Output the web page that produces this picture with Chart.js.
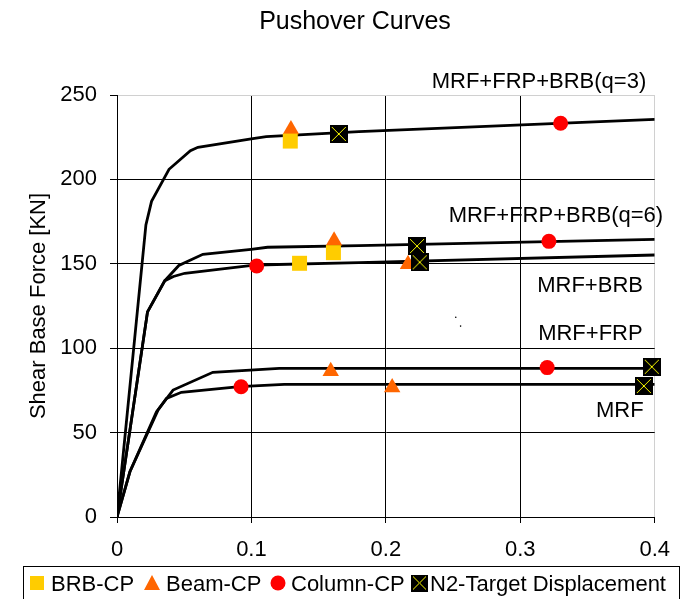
<!DOCTYPE html>
<html>
<head>
<meta charset="utf-8">
<script src="https://cdn.jsdelivr.net/npm/chart.js@4.4.1/dist/chart.umd.min.js"></script>
<style>
    html, body { margin: 0; padding: 0; background: #fff; }
    canvas { display: block; }
</style>
</head>
<body>
<canvas id="chart" width="684" height="599"></canvas>
<script>
// pushover curves: roof displacement [m] vs shear base force [KN]
const xTicks = [0, 0.1, 0.2, 0.3, 0.4];
const yTicks = [0, 50, 100, 150, 200, 250];

const q3X = [0, 0.0215, 0.0257, 0.0387, 0.0546, 0.0602, 0.0998, 0.111, 0.18, 0.4];
const q3Y = [0, 173, 187, 206, 217, 219, 224, 225.3, 228.3, 235.6];

const q6X = [0, 0.0227, 0.0356, 0.046, 0.0639, 0.0998, 0.112, 0.18, 0.4];
const q6Y = [0, 121.5, 140, 149, 155.6, 158.6, 159.8, 160.8, 164.5];

const brbX = [0, 0.0227, 0.0356, 0.042, 0.0504, 0.1035, 0.18, 0.4];
const brbY = [0, 121.5, 140, 142.5, 144.4, 149.3, 150.7, 155.2];

const frpX = [0, 0.0096, 0.0294, 0.0417, 0.0713, 0.1207, 0.4];
const frpY = [0, 26.8, 62.4, 75.2, 85.7, 88.1, 88.1];

const mrfX = [0, 0.0096, 0.0306, 0.0368, 0.0479, 0.0911, 0.1244, 0.4];
const mrfY = [0, 26.8, 63.4, 70.3, 73.9, 77.2, 78.6, 78.6];

// performance points
const brbCpX = [0.1289, 0.161, 0.1358];
const brbCpY = [222.7, 156.6, 150.3];
const beamCpX = [0.1294, 0.1615, 0.2165, 0.159, 0.2047];
const beamCpY = [229.6, 163.7, 149.7, 86.4, 76.7];
const colCpX = [0.330, 0.3213, 0.1039, 0.32, 0.0923];
const colCpY = [233.3, 163.3, 148.7, 88.5, 77.2];
const n2X = [0.165, 0.2232, 0.2252, 0.3978, 0.3919];
const n2Y = [226.9, 160.5, 150.9, 89, 77.6];

// stray specks in the plot
const speckX = [0.252, 0.2556];
const speckY = [118.3, 113.1];

const curveNames = ['MRF+FRP+BRB(q=3)', 'MRF+FRP+BRB(q=6)', 'MRF+BRB', 'MRF+FRP', 'MRF'];
// left edge and baseline of each curve name, in data units
const nameX = [0.2341, 0.2467, 0.3126, 0.3133, 0.3563];
const nameY = [254, 174.9, 133.5, 105, 59];

const legendNames = ['BRB-CP', 'Beam-CP', 'Column-CP', 'N2-Target Displacement'];
const chartTitle = 'Pushover Curves';

const FONT = '"Liberation Sans", Arial, sans-serif';
Chart.defaults.font.family = FONT;
Chart.defaults.color = '#000';

const zip = (xs, ys) => xs.map((x, i) => ({ x: x, y: ys[i] }));

// black square with a yellow cross
function makeN2Marker(size) {
    const c = document.createElement('canvas');
    c.width = size;
    c.height = size;
    const g = c.getContext('2d');
    g.fillStyle = '#000';
    g.fillRect(0, 0, size, size);
    g.strokeStyle = '#FFFF00';
    g.lineWidth = 1;
    g.beginPath();
    g.moveTo(2, 2);
    g.lineTo(size - 2, size - 2);
    g.moveTo(size - 2, 2);
    g.lineTo(2, size - 2);
    g.stroke();
    return c;
}
const n2Marker = makeN2Marker(18);
const n2Legend = makeN2Marker(17);

function curve(xs, ys) {
    return {
        data: zip(xs, ys),
        showLine: true,
        borderColor: '#000',
        borderWidth: 2.8,
        pointRadius: 0,
        tension: 0,
        order: 10,
    };
}

function markers(xs, ys, style, color, radius, order) {
    return {
        data: zip(xs, ys),
        showLine: false,
        pointStyle: style,
        pointRadius: radius,
        pointBackgroundColor: color,
        pointBorderColor: color,
        pointBorderWidth: 0,
        clip: false,
        order: order,
    };
}

const decor = {
    id: 'decor',
    afterDraw(chart) {
        const ctx = chart.ctx;
        const xs = chart.scales.x;
        const ys = chart.scales.y;
        ctx.save();
        ctx.fillStyle = '#000';

        // title, centred a little right of the canvas middle as in the source
        ctx.font = '25px ' + FONT;
        ctx.textAlign = 'center';
        ctx.textBaseline = 'alphabetic';
        ctx.fillText(chartTitle, 355, 29);

        ctx.font = '22px ' + FONT;
        ctx.textAlign = 'left';
        curveNames.forEach((name, i) => {
            ctx.fillText(name, xs.getPixelForValue(nameX[i]), ys.getPixelForValue(nameY[i]));
        });

        // legend box
        ctx.strokeStyle = '#000';
        ctx.lineWidth = 1;
        ctx.strokeRect(23.5, 566.5, 656, 40);
        const cy = 583;
        // BRB-CP square
        ctx.fillStyle = '#FFCC00';
        ctx.fillRect(30, cy - 7, 14, 14);
        // Beam-CP triangle
        ctx.fillStyle = '#FF6600';
        ctx.beginPath();
        ctx.moveTo(152, cy - 8);
        ctx.lineTo(160, cy + 7);
        ctx.lineTo(144, cy + 7);
        ctx.closePath();
        ctx.fill();
        // Column-CP circle
        ctx.fillStyle = '#FF0000';
        ctx.beginPath();
        ctx.arc(278, cy, 7.5, 0, Math.PI * 2);
        ctx.fill();
        // N2 target
        ctx.drawImage(n2Legend, 411, cy - 8.5);
        ctx.fillStyle = '#000';
        const textX = [51, 166, 291, 430];
        legendNames.forEach((name, i) => ctx.fillText(name, textX[i], cy + 8));
        ctx.restore();
    },
};

const lightEdge = (v) => (v === 250 || Math.abs(v - 0.4) < 1e-9 ? '#D0D0D0' : '#000');

new Chart(document.getElementById('chart'), {
    type: 'scatter',
    data: {
        datasets: [
            curve(q3X, q3Y),
            curve(q6X, q6Y),
            curve(brbX, brbY),
            curve(frpX, frpY),
            curve(mrfX, mrfY),
            markers(speckX, speckY, 'circle', '#000', 0.8, 9),
            markers(beamCpX, beamCpY, 'triangle', '#FF6600', 9.5, 5),
            markers(brbCpX, brbCpY, 'rect', '#FFCC00', 10.6, 4),
            markers(colCpX, colCpY, 'circle', '#FF0000', 7.5, 3),
            markers(n2X, n2Y, n2Marker, '#000', 9, 2),
        ],
    },
    options: {
        responsive: false,
        animation: false,
        devicePixelRatio: 1,
        layout: { padding: { left: 0, right: 27, top: 95, bottom: 42 } },
        plugins: {
            legend: { display: false },
            tooltip: { enabled: false },
            title: { display: false },
        },
        scales: {
            x: {
                type: 'linear',
                min: 0,
                max: 0.4,
                afterBuildTicks: (s) => { s.ticks = xTicks.map((v) => ({ value: v })); },
                afterFit: (s) => { s.height = 40; },
                ticks: {
                    padding: 14,
                    font: { size: 22 },
                    callback: (v) => String(Math.round(v * 10) / 10),
                },
                grid: {
                    color: (c) => lightEdge(c.tick.value),
                    lineWidth: 1,
                    tickLength: 6,
                    tickColor: '#000',
                },
                border: { color: '#000', width: 1 },
            },
            y: {
                type: 'linear',
                min: 0,
                max: 250,
                afterBuildTicks: (s) => { s.ticks = yTicks.map((v) => ({ value: v })); },
                afterFit: (s) => { s.width = 117; },
                ticks: {
                    padding: 13,
                    font: { size: 22 },
                },
                grid: {
                    color: (c) => lightEdge(c.tick.value),
                    lineWidth: 1,
                    tickLength: 7,
                    tickColor: '#000',
                },
                border: { color: '#000', width: 1 },
                title: {
                    display: true,
                    text: 'Shear Base Force [KN]',
                    font: { size: 22 },
                    padding: { top: 26, bottom: 0 },
                },
            },
        },
    },
    plugins: [decor],
});
</script>
</body>
</html>
